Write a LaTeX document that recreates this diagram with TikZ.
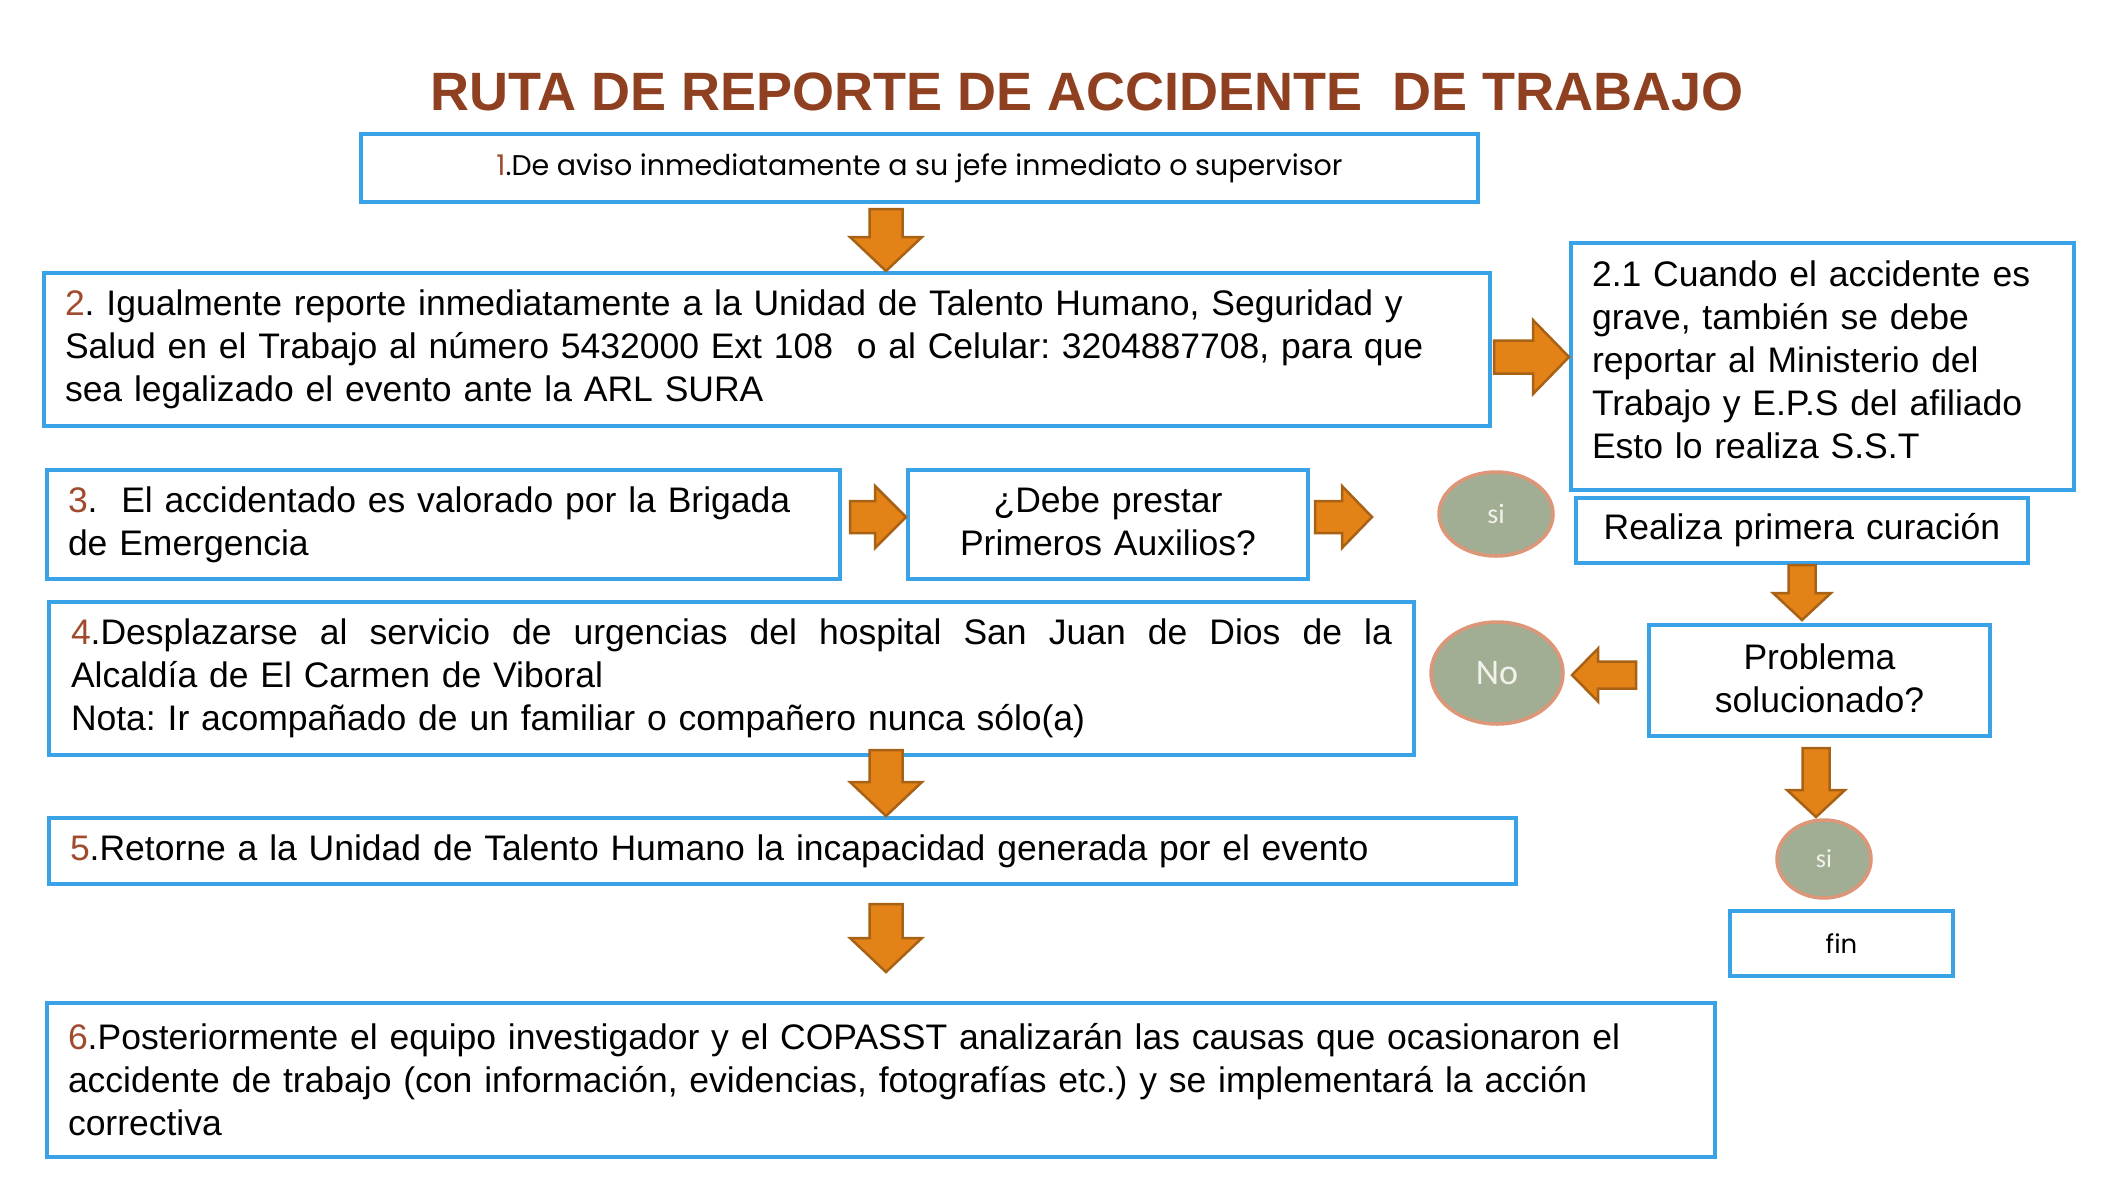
\documentclass[tikz,border=0pt]{standalone}
\usepackage{fontspec}
\setmainfont{Liberation Sans}
\newfontfamily\gothic{Poppins}
\newfontfamily\calib{Carlito}
\usetikzlibrary{calc,shapes.geometric}
\definecolor{bordblue}{RGB}{58,163,232}
\definecolor{orfill}{RGB}{227,130,22}
\definecolor{ordraw}{RGB}{168,98,22}
\definecolor{titlebrown}{RGB}{143,64,32}
\definecolor{numbrown}{RGB}{160,75,45}
\definecolor{sage}{RGB}{162,174,148}
\definecolor{salmon}{RGB}{222,150,120}
\definecolor{circtext}{RGB}{242,242,236}
\newcommand{\num}[1]{{\color{numbrown}#1}}
% block arrows: #1 tail, #2 tip, #3 shaft half width, #4 head half width, #5 head length
\newcommand{\arrowDown}[5]{\draw[blk] let \p1=#1, \p2=#2 in
  (\x2-#3pt,\y1) -- (\x2+#3pt,\y1) -- (\x2+#3pt,\y2+#5pt) -- (\x2+#4pt,\y2+#5pt) -- (\x2,\y2)
  -- (\x2-#4pt,\y2+#5pt) -- (\x2-#3pt,\y2+#5pt) -- cycle;}
\newcommand{\arrowRight}[5]{\draw[blk] let \p1=#1, \p2=#2 in
  (\x1,\y2-#3pt) -- (\x1,\y2+#3pt) -- (\x2-#5pt,\y2+#3pt) -- (\x2-#5pt,\y2+#4pt) -- (\x2,\y2)
  -- (\x2-#5pt,\y2-#4pt) -- (\x2-#5pt,\y2-#3pt) -- cycle;}
\newcommand{\arrowLeft}[5]{\draw[blk] let \p1=#1, \p2=#2 in
  (\x1,\y2-#3pt) -- (\x1,\y2+#3pt) -- (\x2+#5pt,\y2+#3pt) -- (\x2+#5pt,\y2+#4pt) -- (\x2,\y2)
  -- (\x2+#5pt,\y2-#4pt) -- (\x2+#5pt,\y2-#3pt) -- cycle;}
\frenchspacing
\begin{document}
\begin{tikzpicture}[x=1pt,y=1pt,
  box/.style={draw=bordblue, line width=4pt, fill=white, anchor=north west, inner ysep=0pt},
  lbox/.style={box, align=left, inner xsep=21pt, font=\fontsize{35.5}{43}\selectfont},
  cbox/.style={box, align=center, inner xsep=0pt, font=\fontsize{35.5}{43}\selectfont},
  blk/.style={fill=orfill, draw=ordraw, line width=2.5pt, line join=miter},
  circ/.style={ellipse, fill=sage, draw=salmon, line width=3.5pt, text=circtext, inner sep=0pt}]
\fill[white] (0,0) rectangle (2115,-1203);
\useasboundingbox (0,0) rectangle (2115,-1203);

\node[text=titlebrown, font=\fontsize{54}{60}\selectfont\bfseries] (title) at (1087,-92)
  {RUTA DE REPORTE DE ACCIDENTE\ \ DE TRABAJO};

\node[box, minimum width=1117pt, minimum height=68pt, align=center, font=\gothic\fontsize{28.5}{32}\selectfont]
  (b1) at (359,-132) {\num{1}.De aviso inmediatamente a su jefe inmediato o supervisor};

\node[lbox, text width=1404pt, minimum height=153pt] (b2) at (42,-271)
  {\num{2}. Igualmente reporte inmediatamente a la Unidad de Talento Humano, Seguridad y\\
   Salud en el Trabajo al número 5432000 Ext 108\ \ o al Celular: 3204887708, para que\\
   sea legalizado el evento ante la ARL SURA};

\node[lbox, text width=461pt, minimum height=247pt] (b21) at (1569,-241)
  {2.1 Cuando el accidente es\\ grave,\ también se debe\\ reportar al Ministerio del\\
   Trabajo y E.P.S del afiliado\\ Esto lo realiza S.S.T\rule[-14pt]{0pt}{14pt}};

\node[lbox, text width=751pt, minimum height=109pt] (b3) at (45,-468)
  {\num{3}.\ \ El accidentado es valorado por la Brigada\\ de Emergencia};

\node[cbox, text width=400pt, minimum height=109pt] (b3q) at (906,-468)
  {¿Debe prestar\\ Primeros Auxilios?\rule[-6pt]{0pt}{6pt}};

\node[circ, minimum width=114pt, minimum height=84pt, font=\calib\fontsize{28}{30}\selectfont]
  (si1) at (1496,-514) {si};

\node[cbox, text width=452pt, minimum height=65pt] (cur) at (1574,-496)
  {Realiza primera curación};

\node[cbox, text width=341pt, minimum height=111pt] (prob) at (1647,-623)
  {Problema\\ solucionado?\rule[-5pt]{0pt}{5pt}};

\node[circ, minimum width=132pt, minimum height=102pt, font=\calib\fontsize{36}{38}\selectfont]
  (no) at (1497,-673) {No};

\node[lbox, inner xsep=22pt, text width=1321pt, minimum height=153pt] (b4) at (47,-600)
  {\makebox[1321pt][s]{\spaceskip=.28em plus 1fil\relax \num{4}.Desplazarse al servicio de urgencias del hospital San Juan de Dios de la}\\
   Alcaldía de El Carmen de Viboral\\
   Nota: Ir acompañado de un familiar o compañero nunca sólo(a)};

\node[lbox, text width=1425pt, minimum height=66pt] (b5) at (47,-816)
  {\num{5}.Retorne a la Unidad de Talento Humano la incapacidad generada por el evento};

\node[lbox, text width=1626pt, minimum height=154pt] (b6) at (45,-1001)
  {\num{6}.Posteriormente el equipo investigador y el COPASST analizarán las causas que ocasionaron el\\
   accidente de trabajo (con información, evidencias, fotografías etc.) y se implementará la acción\\
   correctiva};

\node[circ, minimum width=94pt, minimum height=78pt, font=\calib\fontsize{26}{28}\selectfont]
  (si2) at (1824,-859) {si};

\node[cbox, text width=223pt, minimum height=65pt, font=\gothic\fontsize{26}{30}\selectfont]
  (fin) at (1728,-909) {fin};

% block arrows
\arrowDown{($(b1.south)+(0,-5)$)}{(886,0 |- b2.north)}{16.5}{36}{34}
\arrowRight{(1494,-357)}{(b21.west |- 0,-357)}{16.5}{37}{36}
\arrowRight{(850,-517)}{(b3q.west |- 0,-517)}{16}{31}{31}
\arrowRight{(1315,-517)}{(1372,-517)}{16}{31}{30}
\arrowDown{(cur.south)}{(1802,-620)}{13.5}{29}{27}
\arrowLeft{(1636,-675)}{(1572,-675)}{13.5}{26.5}{26}
\arrowDown{(886,-750)}{(886,0 |- b5.north)}{16.5}{36}{34}
\arrowDown{(886,-904)}{(886,-972)}{16.5}{36}{34}
\arrowDown{(1816,-748)}{(1816,-817)}{13.5}{29}{27}
\end{tikzpicture}
\end{document}
